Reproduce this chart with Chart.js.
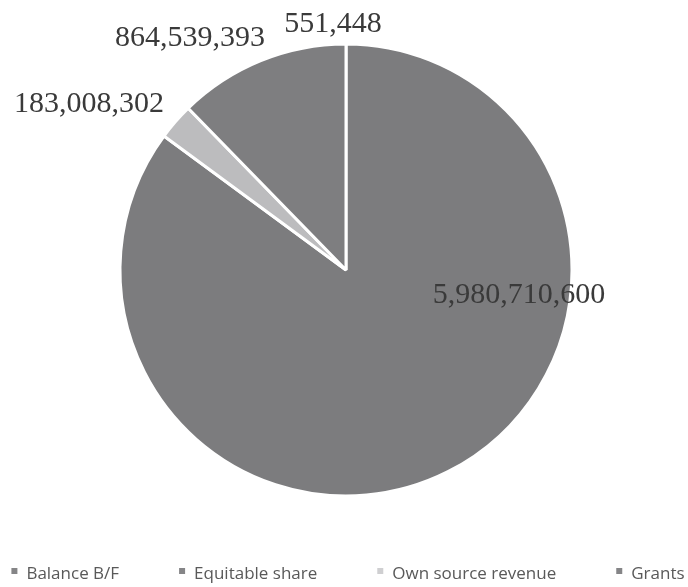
<!DOCTYPE html>
<html>
<head>
<meta charset="utf-8">
<script src="https://cdn.jsdelivr.net/npm/chart.js@4"></script>
<style>
  html, body { margin: 0; padding: 0; background: #fff; }
  #wrap { width: 688px; height: 587px; }
</style>
</head>
<body>
<div id="wrap"><canvas id="pie"></canvas></div>
<script>
// Revenue sources
const categories = ['Balance B/F', 'Equitable share', 'Own source revenue', 'Grants'];
const amounts = [551448, 5980710600, 183008302, 864539393];
const valueLabels = ['551,448', '5,980,710,600', '183,008,302', '864,539,393'];
const sliceColors = ['#828284', '#7c7c7e', '#bcbcbe', '#7e7e80'];

// where each value label sits, relative to pie centre in units of radius
const labelPlacement = [
    { dx: -0.058, dy: -1.088 },
    { dx: 0.765, dy: 0.111 },
    { dx: -1.137, dy: -0.735 },
    { dx: -0.69, dy: -1.027 }
];

const valueLabelPlugin = {
    id: 'valueLabels',
    afterDatasetsDraw(chart) {
        const ctx = chart.ctx;
        const arcs = chart.getDatasetMeta(0).data;
        ctx.save();
        ctx.font = '30px "Liberation Serif", "Times New Roman", serif';
        ctx.textAlign = 'center';
        ctx.textBaseline = 'middle';
        arcs.forEach((arc, i) => {
            const p = labelPlacement[i];
            const r = arc.outerRadius;
            ctx.fillStyle = '#3a3a3a';
            ctx.fillText(valueLabels[i], arc.x + p.dx * r, arc.y + p.dy * r);
        });
        ctx.restore();
    }
};

// single-row legend along the bottom, like the spreadsheet one
const bottomLegend = {
    id: 'bottomLegend',
    afterDraw(chart) {
        const ctx = chart.ctx;
        const box = 6, textGap = 9, itemGap = 60;
        ctx.save();
        ctx.font = '17px "Open Sans", sans-serif';
        ctx.textBaseline = 'middle';
        const widths = categories.map(c => box + textGap + ctx.measureText(c).width);
        const total = widths.reduce((a, b) => a + b, 0) + itemGap * (categories.length - 1);
        let x = (chart.width - total) / 2 + 4;
        const y = chart.height - 13;
        categories.forEach((c, i) => {
            ctx.fillStyle = sliceColors[i] === '#bcbcbe' ? '#cfcfd1' : '#858587';
            ctx.fillRect(x, y - box / 2 - 3, box, box);
            ctx.fillStyle = '#595959';
            ctx.fillText(c, x + box + textGap, y);
            x += widths[i] + itemGap;
        });
        ctx.restore();
    }
};

new Chart(document.getElementById('pie'), {
    type: 'pie',
    data: {
        labels: categories,
        datasets: [{
            data: amounts,
            backgroundColor: sliceColors,
            borderColor: '#ffffff',
            borderWidth: 3,
            radius: 226
        }]
    },
    options: {
        responsive: true,
        maintainAspectRatio: false,
        animation: false,
        layout: { padding: { top: 34, left: 4, bottom: 81 } },
        plugins: {
            tooltip: { enabled: false },
            legend: { display: false }
        }
    },
    plugins: [valueLabelPlugin, bottomLegend]
});
</script>
</body>
</html>
